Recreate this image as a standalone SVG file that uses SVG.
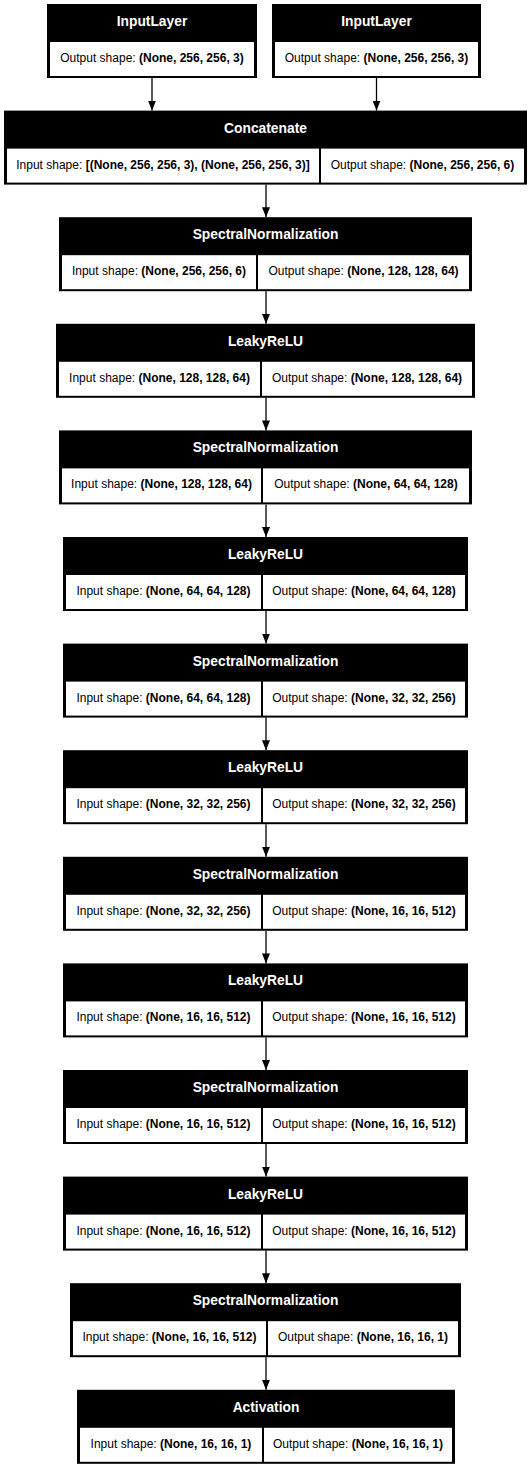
<svg xmlns="http://www.w3.org/2000/svg" width="532" height="1468" viewBox="0 0 532 1468">
<style>
.bg{fill:#000}
.cell{fill:#fff}
.h{font-family:"Liberation Sans",Arial,sans-serif;font-size:13.8px;font-weight:bold;fill:#fff;text-anchor:middle}
.t{font-family:"Liberation Sans",Arial,sans-serif;font-size:12px;fill:#000;text-anchor:middle}
.b{font-weight:bold}
.e{stroke:#000;stroke-width:1.3;fill:none;marker-end:url(#ah)}
</style>
<defs>
<marker id="ah" markerUnits="userSpaceOnUse" markerWidth="10" markerHeight="8" refX="10" refY="4" orient="auto" viewBox="0 0 10 8">
<path d="M0,0 L10,4 L0,8 z" fill="#000"/>
</marker>
</defs>
<rect width="532" height="1468" fill="#fff"/>
<g id="edges">
<line class="e" x1="152" y1="78" x2="152" y2="110.6"/>
<line class="e" x1="376.5" y1="78" x2="376.5" y2="110.6"/>
<line class="e" x1="266" y1="184.6" x2="266" y2="217.2"/>
<line class="e" x1="266" y1="291.2" x2="266" y2="323.8"/>
<line class="e" x1="266" y1="397.8" x2="266" y2="430.4"/>
<line class="e" x1="266" y1="504.4" x2="266" y2="537"/>
<line class="e" x1="266" y1="611" x2="266" y2="643.6"/>
<line class="e" x1="266" y1="717.6" x2="266" y2="750.2"/>
<line class="e" x1="266" y1="824.2" x2="266" y2="856.8"/>
<line class="e" x1="266" y1="930.8" x2="266" y2="963.4"/>
<line class="e" x1="266" y1="1037.4" x2="266" y2="1070"/>
<line class="e" x1="266" y1="1144" x2="266" y2="1176.6"/>
<line class="e" x1="266" y1="1250.6" x2="266" y2="1283.2"/>
<line class="e" x1="266" y1="1357.2" x2="266" y2="1389.8"/>
</g>
<g id="input1" transform="translate(0,4)">
<rect class="bg" x="47" y="0" width="210" height="74"/>
<rect class="cell" x="50" y="38" width="204" height="34"/>
<text class="h" x="152" y="22">InputLayer</text>
<text class="t" x="152" y="58">Output shape: <tspan class="b">(None, 256, 256, 3)</tspan></text>
</g>
<g id="input2" transform="translate(0,4)">
<rect class="bg" x="272" y="0" width="209" height="74"/>
<rect class="cell" x="275" y="38" width="203" height="34"/>
<text class="h" x="376.5" y="22">InputLayer</text>
<text class="t" x="376.5" y="58">Output shape: <tspan class="b">(None, 256, 256, 3)</tspan></text>
</g>
<g id="concatenate" transform="translate(0,110.6)">
<rect class="bg" x="4" y="0" width="523" height="74"/>
<rect class="cell" x="7" y="38" width="312" height="34"/>
<rect class="cell" x="321" y="38" width="203" height="34"/>
<text class="h" x="265.5" y="22">Concatenate</text>
<text class="t" x="163" y="58">Input shape: <tspan class="b">[(None, 256, 256, 3), (None, 256, 256, 3)]</tspan></text>
<text class="t" x="422.5" y="58">Output shape: <tspan class="b">(None, 256, 256, 6)</tspan></text>
</g>
<g id="spectral1" transform="translate(0,217.2)">
<rect class="bg" x="59" y="0" width="413" height="74"/>
<rect class="cell" x="62" y="38" width="194" height="34"/>
<rect class="cell" x="258" y="38" width="211" height="34"/>
<text class="h" x="265.5" y="22">SpectralNormalization</text>
<text class="t" x="159" y="58">Input shape: <tspan class="b">(None, 256, 256, 6)</tspan></text>
<text class="t" x="363.5" y="58">Output shape: <tspan class="b">(None, 128, 128, 64)</tspan></text>
</g>
<g id="leaky1" transform="translate(0,323.8)">
<rect class="bg" x="56" y="0" width="419" height="74"/>
<rect class="cell" x="59" y="38" width="201" height="34"/>
<rect class="cell" x="262" y="38" width="210" height="34"/>
<text class="h" x="265.5" y="22">LeakyReLU</text>
<text class="t" x="159.5" y="58">Input shape: <tspan class="b">(None, 128, 128, 64)</tspan></text>
<text class="t" x="367" y="58">Output shape: <tspan class="b">(None, 128, 128, 64)</tspan></text>
</g>
<g id="spectral2" transform="translate(0,430.4)">
<rect class="bg" x="59" y="0" width="413" height="74"/>
<rect class="cell" x="62" y="38" width="199" height="34"/>
<rect class="cell" x="263" y="38" width="206" height="34"/>
<text class="h" x="265.5" y="22">SpectralNormalization</text>
<text class="t" x="161.5" y="58">Input shape: <tspan class="b">(None, 128, 128, 64)</tspan></text>
<text class="t" x="366" y="58">Output shape: <tspan class="b">(None, 64, 64, 128)</tspan></text>
</g>
<g id="leaky2" transform="translate(0,537)">
<rect class="bg" x="63" y="0" width="405" height="74"/>
<rect class="cell" x="66" y="38" width="195" height="34"/>
<rect class="cell" x="263" y="38" width="202" height="34"/>
<text class="h" x="265.5" y="22">LeakyReLU</text>
<text class="t" x="163.5" y="58">Input shape: <tspan class="b">(None, 64, 64, 128)</tspan></text>
<text class="t" x="364" y="58">Output shape: <tspan class="b">(None, 64, 64, 128)</tspan></text>
</g>
<g id="spectral3" transform="translate(0,643.6)">
<rect class="bg" x="63" y="0" width="405" height="74"/>
<rect class="cell" x="66" y="38" width="195" height="34"/>
<rect class="cell" x="263" y="38" width="202" height="34"/>
<text class="h" x="265.5" y="22">SpectralNormalization</text>
<text class="t" x="163.5" y="58">Input shape: <tspan class="b">(None, 64, 64, 128)</tspan></text>
<text class="t" x="364" y="58">Output shape: <tspan class="b">(None, 32, 32, 256)</tspan></text>
</g>
<g id="leaky3" transform="translate(0,750.2)">
<rect class="bg" x="63" y="0" width="405" height="74"/>
<rect class="cell" x="66" y="38" width="195" height="34"/>
<rect class="cell" x="263" y="38" width="202" height="34"/>
<text class="h" x="265.5" y="22">LeakyReLU</text>
<text class="t" x="163.5" y="58">Input shape: <tspan class="b">(None, 32, 32, 256)</tspan></text>
<text class="t" x="364" y="58">Output shape: <tspan class="b">(None, 32, 32, 256)</tspan></text>
</g>
<g id="spectral4" transform="translate(0,856.8)">
<rect class="bg" x="63" y="0" width="405" height="74"/>
<rect class="cell" x="66" y="38" width="195" height="34"/>
<rect class="cell" x="263" y="38" width="202" height="34"/>
<text class="h" x="265.5" y="22">SpectralNormalization</text>
<text class="t" x="163.5" y="58">Input shape: <tspan class="b">(None, 32, 32, 256)</tspan></text>
<text class="t" x="364" y="58">Output shape: <tspan class="b">(None, 16, 16, 512)</tspan></text>
</g>
<g id="leaky4" transform="translate(0,963.4)">
<rect class="bg" x="63" y="0" width="405" height="74"/>
<rect class="cell" x="66" y="38" width="195" height="34"/>
<rect class="cell" x="263" y="38" width="202" height="34"/>
<text class="h" x="265.5" y="22">LeakyReLU</text>
<text class="t" x="163.5" y="58">Input shape: <tspan class="b">(None, 16, 16, 512)</tspan></text>
<text class="t" x="364" y="58">Output shape: <tspan class="b">(None, 16, 16, 512)</tspan></text>
</g>
<g id="spectral5" transform="translate(0,1070)">
<rect class="bg" x="63" y="0" width="405" height="74"/>
<rect class="cell" x="66" y="38" width="195" height="34"/>
<rect class="cell" x="263" y="38" width="202" height="34"/>
<text class="h" x="265.5" y="22">SpectralNormalization</text>
<text class="t" x="163.5" y="58">Input shape: <tspan class="b">(None, 16, 16, 512)</tspan></text>
<text class="t" x="364" y="58">Output shape: <tspan class="b">(None, 16, 16, 512)</tspan></text>
</g>
<g id="leaky5" transform="translate(0,1176.6)">
<rect class="bg" x="63" y="0" width="405" height="74"/>
<rect class="cell" x="66" y="38" width="195" height="34"/>
<rect class="cell" x="263" y="38" width="202" height="34"/>
<text class="h" x="265.5" y="22">LeakyReLU</text>
<text class="t" x="163.5" y="58">Input shape: <tspan class="b">(None, 16, 16, 512)</tspan></text>
<text class="t" x="364" y="58">Output shape: <tspan class="b">(None, 16, 16, 512)</tspan></text>
</g>
<g id="spectral6" transform="translate(0,1283.2)">
<rect class="bg" x="70" y="0" width="391" height="74"/>
<rect class="cell" x="73" y="38" width="193" height="34"/>
<rect class="cell" x="268" y="38" width="190" height="34"/>
<text class="h" x="265.5" y="22">SpectralNormalization</text>
<text class="t" x="169.5" y="58">Input shape: <tspan class="b">(None, 16, 16, 512)</tspan></text>
<text class="t" x="363" y="58">Output shape: <tspan class="b">(None, 16, 16, 1)</tspan></text>
</g>
<g id="activation" transform="translate(0,1389.8)">
<rect class="bg" x="77" y="0" width="378" height="74"/>
<rect class="cell" x="80" y="38" width="182" height="34"/>
<rect class="cell" x="264" y="38" width="188" height="34"/>
<text class="h" x="266" y="22">Activation</text>
<text class="t" x="171" y="58">Input shape: <tspan class="b">(None, 16, 16, 1)</tspan></text>
<text class="t" x="358" y="58">Output shape: <tspan class="b">(None, 16, 16, 1)</tspan></text>
</g>
</svg>
